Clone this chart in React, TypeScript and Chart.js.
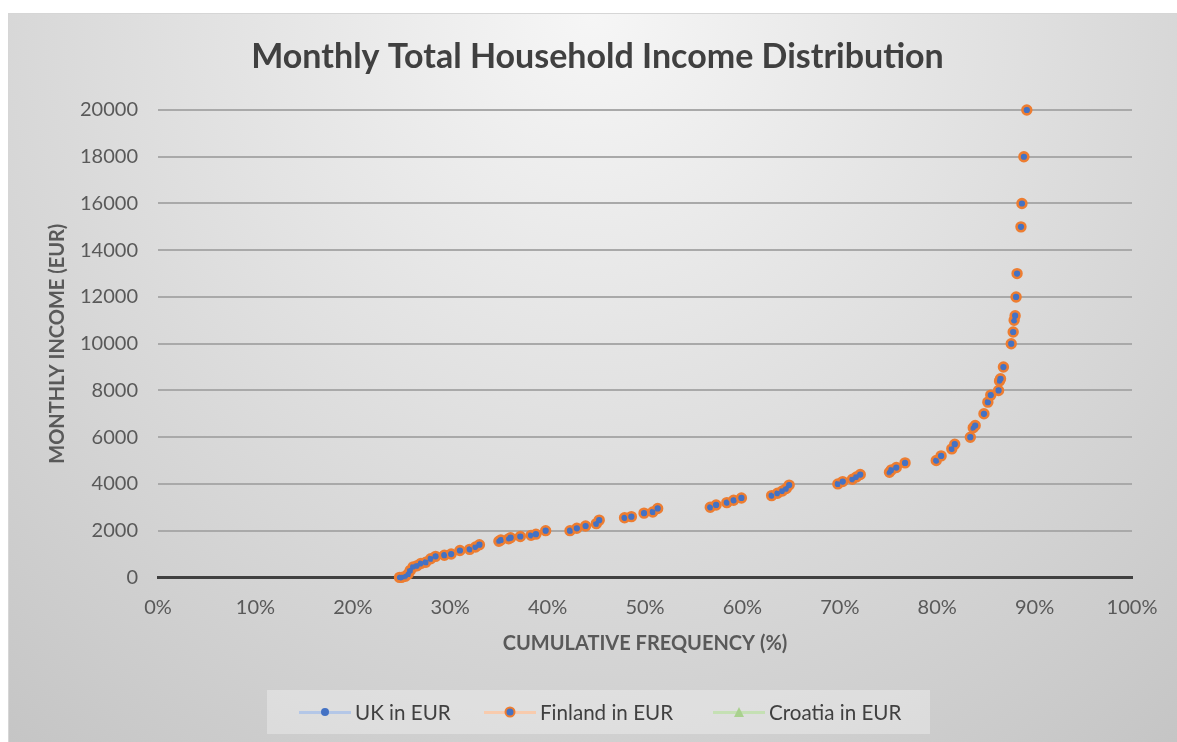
import React, { useEffect, useRef } from "react";
import { Chart, registerables } from "chart.js";

Chart.register(...registerables);

const chartTitle = "Monthly Total Household Income Distribution";
const xAxisTitle = "CUMULATIVE FREQUENCY (%)";
const yAxisTitle = "MONTHLY INCOME (EUR)";
const seriesNames = ["UK in EUR", "Finland in EUR", "Croatia in EUR"];

const xTickMin = 0;
const xTickMax = 100;
const xTickStep = 10;
const yTickMin = 0;
const yTickMax = 20000;
const yTickStep = 2000;

// cumulative frequency (%) of each income level
const cumulativeFrequency = [
  24.8, 25.0, 25.4, 25.7, 25.9, 26.2, 26.6, 27.0, 27.5, 28.0,
  28.5, 29.4, 30.1, 31.0, 32.0, 32.6, 33.0, 35.0, 35.2, 36.0,
  36.2, 37.2, 38.3, 38.8, 39.8, 42.3, 43.0, 43.9, 45.0, 45.3,
  47.9, 48.6, 49.9, 50.8, 51.3, 56.7, 57.3, 58.4, 59.1, 59.9,
  63.0, 63.6, 64.1, 64.5, 64.8, 69.8, 70.3, 71.3, 71.7, 72.1,
  75.1, 75.3, 75.8, 76.7, 79.9, 80.4, 81.5, 81.8, 83.4, 83.7,
  83.9, 84.8, 85.2, 85.5, 86.3, 86.4, 86.5, 86.8, 87.6, 87.8,
  87.9, 88.0, 88.1, 88.2, 88.6, 88.7, 88.9, 89.2,
];

const ukIncome = [
  0, 0, 50, 150, 300, 450, 500, 600, 650, 800,
  900, 950, 1000, 1150, 1200, 1300, 1400, 1550, 1600, 1650,
  1700, 1750, 1800, 1850, 2000, 2000, 2100, 2200, 2300, 2450,
  2550, 2600, 2750, 2800, 2950, 3000, 3100, 3200, 3300, 3400,
  3500, 3600, 3700, 3800, 3950, 4000, 4100, 4200, 4300, 4400,
  4500, 4600, 4700, 4900, 5000, 5200, 5500, 5700, 6000, 6400,
  6500, 7000, 7500, 7800, 8000, 8400, 8500, 9000, 10000, 10500,
  11000, 11200, 12000, 13000, 15000, 16000, 18000, 20000,
];

const finlandIncome = [
  0, 0, 50, 150, 300, 450, 500, 600, 650, 800,
  900, 950, 1000, 1150, 1200, 1300, 1400, 1550, 1600, 1650,
  1700, 1750, 1800, 1850, 2000, 2000, 2100, 2200, 2300, 2450,
  2550, 2600, 2750, 2800, 2950, 3000, 3100, 3200, 3300, 3400,
  3500, 3600, 3700, 3800, 3950, 4000, 4100, 4200, 4300, 4400,
  4500, 4600, 4700, 4900, 5000, 5200, 5500, 5700, 6000, 6400,
  6500, 7000, 7500, 7800, 8000, 8400, 8500, 9000, 10000, 10500,
  11000, 11200, 12000, 13000, 15000, 16000, 18000, 20000,
];

const croatiaFrequency: number[] = [];
const croatiaIncome: number[] = [];

const FONT = "Lato, 'Open Sans', 'DejaVu Sans', sans-serif";
const BLUE = "#4472c4";
const ORANGE = "#ed7d31";
const GREEN = "#a9d18e";
const TEXT = "#595959";

function toPoints(xs: number[], ys: number[]) {
  return xs.map((x, i) => ({ x, y: ys[i] }));
}

function LegendItem(props: {
  left: number;
  label: string;
  line: string;
  marker: React.ReactNode;
}) {
  return (
    <div
      style={{
        position: "absolute",
        left: props.left,
        top: 0,
        height: 44,
        display: "flex",
        alignItems: "center",
      }}
    >
      <div style={{ position: "relative", width: 52, height: 44 }}>
        <div
          style={{
            position: "absolute",
            left: 0,
            top: 20.5,
            width: 52,
            height: 3,
            background: props.line,
          }}
        />
        <div
          style={{
            position: "absolute",
            left: 26,
            top: 22,
            transform: "translate(-50%, -50%)",
          }}
        >
          {props.marker}
        </div>
      </div>
      <span
        style={{
          marginLeft: 4,
          fontFamily: FONT,
          fontSize: 20.6,
          color: "#404040",
          whiteSpace: "nowrap",
        }}
      >
        {props.label}
      </span>
    </div>
  );
}

export default function App() {
  const canvasRef = useRef<HTMLCanvasElement>(null);

  useEffect(() => {
    const canvas = canvasRef.current;
    if (!canvas) return;
    const chart = new Chart(canvas, {
      type: "scatter",
      data: {
        datasets: [
          {
            label: seriesNames[0],
            data: toPoints(cumulativeFrequency, ukIncome),
            pointRadius: 2.6,
            pointBorderWidth: 0,
            pointBackgroundColor: BLUE,
            borderColor: BLUE,
            backgroundColor: BLUE,
            showLine: false,
            clip: false,
          },
          {
            label: seriesNames[1],
            data: toPoints(cumulativeFrequency, finlandIncome),
            pointRadius: 4.4,
            pointBorderWidth: 2.6,
            pointBackgroundColor: BLUE,
            pointBorderColor: ORANGE,
            borderColor: ORANGE,
            backgroundColor: BLUE,
            showLine: false,
            clip: false,
          },
          {
            label: seriesNames[2],
            data: toPoints(croatiaFrequency, croatiaIncome),
            pointStyle: "triangle",
            pointRadius: 5,
            pointBackgroundColor: GREEN,
            pointBorderColor: GREEN,
            borderColor: GREEN,
            backgroundColor: GREEN,
            showLine: false,
            clip: false,
          },
        ],
      },
      options: {
        animation: false,
        responsive: false,
        maintainAspectRatio: false,
        layout: { padding: { left: 8, right: 0, top: 0, bottom: 87.6 } },
        plugins: {
          legend: { display: false },
          tooltip: { enabled: false },
          title: {
            display: true,
            text: chartTitle,
            color: "#404040",
            font: { family: FONT, size: 34, weight: "bold" },
            padding: { top: 22.6, bottom: 32.6 },
          },
        },
        scales: {
          x: {
            type: "linear",
            min: xTickMin,
            max: xTickMax,
            ticks: {
              stepSize: xTickStep,
              color: TEXT,
              font: { family: FONT, size: 20 },
              padding: 18,
              maxRotation: 0,
              callback: (v: any) => `${v}%`,
            },
            grid: { display: false, drawTicks: false },
            border: { display: true, color: "#404040", width: 3 },
            title: {
              display: true,
              text: xAxisTitle,
              color: TEXT,
              font: { family: FONT, size: 20, weight: "bold" },
              padding: { top: 0, bottom: 0 },
            },
            afterFit: (s: any) => {
              s.height = 78;
            },
          },
          y: {
            type: "linear",
            min: yTickMin,
            max: yTickMax,
            ticks: {
              stepSize: yTickStep,
              color: TEXT,
              font: { family: FONT, size: 20 },
              padding: 20,
              callback: (v: any) => String(v),
            },
            grid: { color: "#a9a9a9", lineWidth: 2, drawTicks: false },
            border: { display: false },
            title: {
              display: true,
              text: yAxisTitle,
              color: TEXT,
              font: { family: FONT, size: 20, weight: "bold" },
              padding: { top: 29, bottom: 0 },
            },
            afterFit: (s: any) => {
              s.width = 141;
            },
          },
          yRight: {
            type: "linear",
            position: "right",
            min: yTickMin,
            max: yTickMax,
            ticks: { display: false },
            grid: { display: false, drawTicks: false },
            border: { display: false },
            afterFit: (s: any) => {
              s.width = 46;
            },
          },
        },
      },
    } as any);
    return () => chart.destroy();
  }, []);

  return (
    <div
      style={{
        position: "fixed",
        left: 8,
        top: 13,
        width: 1169,
        height: 729,
        background:
          "radial-gradient(circle farthest-corner at 50% 0%, #f6f6f6 0%, #e0e0e0 45%, #c5c5c5 100%)",
        borderTop: "1px solid #d6d6d6",
        borderLeft: "1px solid #d6d6d6",
        boxSizing: "border-box",
      }}
    >
      <canvas
        ref={canvasRef}
        width={1169}
        height={729}
        style={{ position: "absolute", left: 0, top: 0, width: 1169, height: 729 }}
      />
      <div
        style={{
          position: "absolute",
          left: 258,
          top: 676,
          width: 663,
          height: 44,
          background: "rgba(240,240,240,0.45)",
        }}
      >
        <LegendItem
          left={32}
          label={seriesNames[0]}
          line="#b4c7e7"
          marker={
            <div style={{ width: 8, height: 8, borderRadius: "50%", background: BLUE }} />
          }
        />
        <LegendItem
          left={217}
          label={seriesNames[1]}
          line="#f8cbad"
          marker={
            <div
              style={{
                width: 7,
                height: 7,
                borderRadius: "50%",
                background: BLUE,
                border: `2.5px solid ${ORANGE}`,
              }}
            />
          }
        />
        <LegendItem
          left={446}
          label={seriesNames[2]}
          line="#c5e0b4"
          marker={
            <div
              style={{
                width: 0,
                height: 0,
                borderLeft: "5px solid transparent",
                borderRight: "5px solid transparent",
                borderBottom: `10px solid ${GREEN}`,
              }}
            />
          }
        />
      </div>
    </div>
  );
}
